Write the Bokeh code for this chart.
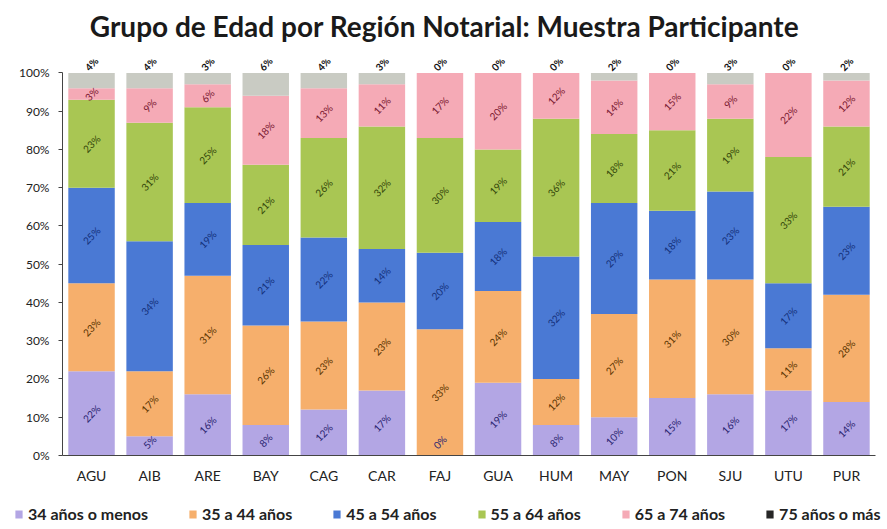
import numpy as np
from bokeh.plotting import figure
from bokeh.layouts import column
from bokeh.models import ColumnDataSource, Range1d, NumeralTickFormatter, Legend, LegendItem, FixedTicker, Label
from bokeh.core.properties import value
from bokeh.embed import file_html
from bokeh.resources import INLINE

regions = ["AGU", "AIB", "ARE", "BAY", "CAG", "CAR", "FAJ", "GUA", "HUM", "MAY", "PON", "SJU", "UTU", "PUR"]
g34 = [22, 5, 16, 8, 12, 17, 0, 19, 8, 10, 15, 16, 17, 14]
g35 = [23, 17, 31, 26, 23, 23, 33, 24, 12, 27, 31, 30, 11, 28]
g45 = [25, 34, 19, 21, 22, 14, 20, 18, 32, 29, 18, 23, 17, 23]
g55 = [23, 31, 25, 21, 26, 32, 30, 19, 36, 18, 21, 19, 33, 21]
g65 = [3, 9, 6, 18, 13, 11, 17, 20, 12, 14, 15, 9, 22, 12]
g75 = [4, 4, 3, 6, 4, 3, 0, 0, 0, 2, 0, 3, 0, 2]
series_names = ["34 años o menos", "35 a 44 años", "45 a 54 años", "55 a 64 años", "65 a 74 años", "75 años o más"]
yticks = [0, 0.1, 0.2, 0.3, 0.4, 0.5, 0.6, 0.7, 0.8, 0.9, 1.0]
title_text = "Grupo de Edad por Región Notarial: Muestra Participante"

colors = ["#b3a6e4", "#f6af6c", "#4a79d4", "#a9c653", "#f5aab6", "#c9cbc3"]
legend_colors = ["#b3a6e4", "#f6af6c", "#4a79d4", "#a9c653", "#f5aab6", "#262626"]
text_colors = ["#2a2470", "#5a3400", "#14307a", "#34460a", "#7a1830", "#111111"]

series = [g34, g35, g45, g55, g65, g75]
keys = ["s0", "s1", "s2", "s3", "s4", "s5"]
data = {"region": regions}
for k, s in zip(keys, series):
    data[k] = [v / 100 for v in s]
source = ColumnDataSource(data)

W = 885

# title strip
tf = figure(width=W, height=50, output_backend="svg", toolbar_location=None,
            x_range=Range1d(0, 1), y_range=Range1d(0, 1),
            min_border=0, min_border_left=0, min_border_right=0, min_border_top=0, min_border_bottom=0)
tf.frame_align = False
tf.axis.visible = False
tf.grid.visible = False
tf.outline_line_color = None
tf.add_layout(Label(x=444, y=25, x_units="screen", y_units="screen", text=title_text,
                    text_font="Lato", text_font_size="28px", text_font_style="bold",
                    text_color="#1a1a1a", text_align="center", text_baseline="middle"))

p = figure(x_range=regions, y_range=Range1d(0, 1.035), width=W, height=438,
           output_backend="svg", toolbar_location=None,
           min_border_left=62, min_border_right=10, min_border_bottom=33, min_border_top=9)
p.frame_align = False

renderers = p.vbar_stack(keys, x="region", width=0.8, color=colors, source=source, line_color=None)

cum = np.zeros(len(regions))
for i, s in enumerate(series):
    vals = np.array(s) / 100
    mid = cum + vals / 2
    top = cum + vals
    if i == 5:
        ys = np.ones(len(regions))
        lsrc = ColumnDataSource(dict(x=regions, y=ys, t=[f"{v}%" for v in s]))
        p.text(x="x", y="y", text="t", source=lsrc, angle=0.8, text_align="center",
               text_baseline="middle", y_offset=-9, text_font=value("Lato"),
               text_font_size="10px", text_color=text_colors[i], text_font_style="bold")
    else:
        ys = np.maximum(mid, 0.035)
        lsrc = ColumnDataSource(dict(x=regions, y=ys, t=[f"{v}%" for v in s]))
        p.text(x="x", y="y", text="t", source=lsrc, angle=0.8, text_align="center",
               text_baseline="middle", text_font=value("Lato"),
               text_font_size="10px", text_color=text_colors[i])
    cum = top

p.yaxis.ticker = FixedTicker(ticks=yticks)
p.yaxis.formatter = NumeralTickFormatter(format="0%")
p.yaxis.bounds = (0, 1)
p.yaxis.minor_tick_line_color = None
p.yaxis.major_tick_in = 0
p.yaxis.major_tick_out = 4
p.yaxis.major_label_standoff = 9
p.yaxis.axis_line_color = "#444444"
p.yaxis.major_tick_line_color = "#444444"
p.yaxis.major_label_text_font_size = "12px"
p.xaxis.major_tick_line_color = None
p.xaxis.axis_line_color = "#444444"
p.xaxis.major_label_text_font_size = "14px"
p.axis.major_label_text_font = "Lato"
p.axis.major_label_text_color = "#222222"
p.xgrid.grid_line_color = None
p.ygrid.grid_line_color = None
p.outline_line_color = None
p.x_range.range_padding = 0.0

# legend strip below the chart; its bars sit outside its visible y-range, only swatches show
lf = figure(width=W, height=38, output_backend="svg", toolbar_location=None,
            x_range=regions, y_range=Range1d(5, 6),
            min_border=0, min_border_left=0, min_border_right=0, min_border_top=0, min_border_bottom=0)
lf.frame_align = False
lf.axis.visible = False
lf.grid.visible = False
lf.outline_line_color = None
leg_renderers = lf.vbar_stack(keys, x="region", width=0.8, color=legend_colors, source=source, line_color=None)
items = [LegendItem(label=n, renderers=[r]) for n, r in zip(series_names, leg_renderers)]
legend = Legend(items=items, orientation="horizontal", location=(14, 3),
                label_text_font="Lato", label_text_font_size="16px", label_text_font_style="bold",
                label_text_color="#222222",
                glyph_width=9, glyph_height=10, spacing=40, padding=2, margin=0,
                border_line_color=None, background_fill_alpha=0, label_standoff=5)
lf.add_layout(legend, "center")

layout = column(tf, p, lf, spacing=0)
open("out.html", "w").write(file_html(layout, INLINE))
